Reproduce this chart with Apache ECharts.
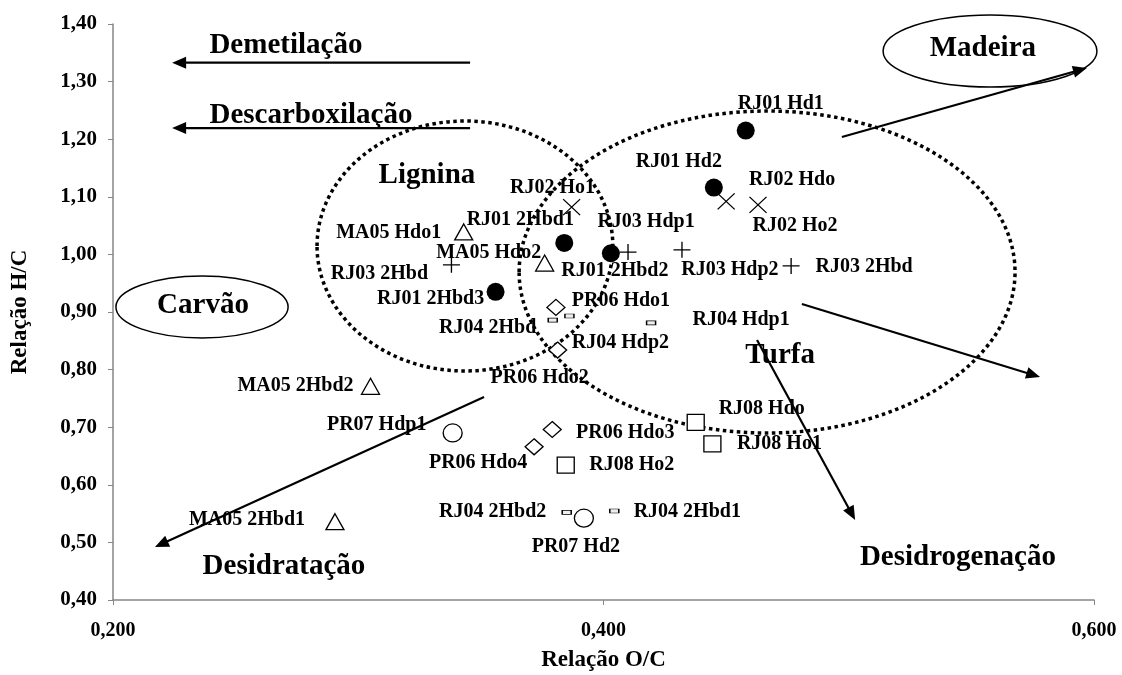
<!DOCTYPE html>
<html><head><meta charset="utf-8">
<script src="https://cdn.jsdelivr.net/npm/echarts@6/dist/echarts.min.js"></script>
<style>html,body{margin:0;padding:0;background:#fff}#c{width:1122px;height:675px}</style>
</head><body><div id="c"></div>
<script>
// ---- data (O/C, H/C) ----
const rj01Names = ['RJ01 Hd1','RJ01 Hd2','RJ01 2Hbd1','RJ01 2Hbd2','RJ01 2Hbd3'];
const rj01OC = [0.458, 0.445, 0.384, 0.403, 0.356];
const rj01HC = [1.215, 1.116, 1.020, 1.002, 0.935];

const rj02Names = ['RJ02 Ho1','RJ02 Hdo','RJ02 Ho2'];
const rj02OC = [0.387, 0.450, 0.463];
const rj02HC = [1.082, 1.092, 1.086];

const rj03Names = ['RJ03 2Hbd','RJ03 Hdp1','RJ03 Hdp2','RJ03 2Hbd'];
const rj03OC = [0.338, 0.410, 0.432, 0.4765];
const rj03HC = [0.982, 1.004, 1.008, 0.980];

const ma05Names = ['MA05 Hdo1','MA05 Hdo2','MA05 2Hbd2','MA05 2Hbd1'];
const ma05OC = [0.343, 0.376, 0.305, 0.2905];
const ma05HC = [1.039, 0.985, 0.771, 0.536];

const pr06Names = ['PR06 Hdo1','PR06 Hdo2','PR06 Hdo3','PR06 Hdo4'];
const pr06OC = [0.3806, 0.3813, 0.3791, 0.3717];
const pr06HC = [0.908, 0.834, 0.696, 0.666];

const rj04Names = ['RJ04 2Hbd','RJ04 Hdp2','RJ04 Hdp1','RJ04 2Hbd2','RJ04 2Hbd1'];
const rj04OC = [0.3793, 0.3861, 0.4194, 0.385, 0.4044];
const rj04HC = [0.886, 0.893, 0.881, 0.552, 0.5545];

const pr07Names = ['PR07 Hdp1','PR07 Hd2'];
const pr07OC = [0.3385, 0.392];
const pr07HC = [0.690, 0.542];

const rj08Names = ['RJ08 Hdo','RJ08 Ho1','RJ08 Ho2'];
const rj08OC = [0.4376, 0.4444, 0.3846];
const rj08HC = [0.7085, 0.671, 0.634];

// ---- label layout (pixel offsets from marker) ----
const rj01Lab = [[35,-27],[-35,-26],[-44,-23],[4,18],[-65,7]];
const rj02Lab = [[-19,-19],[66,-22],[37,21]];
const rj03Lab = [[-72,9],[18,-30],[48,20],[73,1]];
const ma05Lab = [[-75,1],[-56,-10],[-75,0],[-88,-2]];
const pr06Lab = [[65,-7],[-18,28],[73,3],[-56,16]];
const rj04Lab = [[-65,8],[51,27],[90,-3],[-74,-1],[73,1]];
const pr07Lab = [[-76,-8],[-8,29]];
const rj08Lab = [[66,-13],[67,0],[66,0]];

// ---- annotations (data coordinates) ----
const annoTexts = [
  ['Demetilação', 0.2705, 1.3632],
  ['Descarboxilação', 0.2807, 1.2403],
  ['Lignina', 0.3280, 1.1378],
  ['Madeira', 0.5547, 1.3566],
  ['Carvão', 0.2367, 0.9104],
  ['Turfa', 0.4720, 0.8236],
  ['Desidratação', 0.2697, 0.4573],
  ['Desidrogenação', 0.5445, 0.4729]
];
// [x1,y1,x2(tip),y2(tip)]
const arrows = [
  [0.3456, 1.3328, 0.2241, 1.3328],
  [0.3456, 1.2194, 0.2241, 1.2194],
  [0.4972, 1.2038, 0.5971, 1.3236],
  [0.4809, 0.9139, 0.5780, 0.7872],
  [0.4626, 0.8514, 0.5026, 0.5389],
  [0.3513, 0.7524, 0.2171, 0.4920]
];
// [cx, cy, rx, ry, dotted]
const ellipses = [
  [0.3435, 1.0146, 0.0603, 0.2170, true],
  [0.4667, 0.9694, 0.1011, 0.2795, true],
  [0.5576, 1.3531, 0.0436, 0.0625, false],
  [0.2363, 0.9087, 0.0351, 0.0538, false]
];

const FONT = "'Liberation Serif','Times New Roman',serif";

function mk(names, xs, ys, labs) {
  return names.map((n, i) => ({
    name: n, value: [xs[i], ys[i]],
    label: { offset: labs[i] }
  }));
}
const labelBase = { show: true, position: 'inside', formatter: '{b}', fontFamily: FONT,
  fontWeight: 'bold', fontSize: 20, color: '#000', opacity: 1 };
const openStyle = { color: '#fff', borderColor: '#000', borderWidth: 1.3, opacity: 1 };

const chart = echarts.init(document.getElementById('c'));
chart.setOption({
  animation: false,
  backgroundColor: '#fff',
  grid: { left: 113, right: 28, top: 24, bottom: 75, containLabel: false, outerBoundsMode: 'none' },
  xAxis: {
    type: 'value', min: 0.2, max: 0.6, interval: 0.2,
    name: 'Relação O/C', nameLocation: 'middle', nameGap: 49,
    nameTextStyle: { fontFamily: FONT, fontWeight: 'bold', fontSize: 23, color: '#000' },
    axisLine: { show: true, lineStyle: { color: '#868686', width: 1.5 } },
    axisTick: { show: true, length: 5, lineStyle: { color: '#868686' } },
    splitLine: { show: false },
    axisLabel: { margin: 21, fontFamily: FONT, fontWeight: 'bold', fontSize: 20, color: '#000',
      formatter: v => v.toFixed(3).replace('.', ',') }
  },
  yAxis: {
    type: 'value', min: 0.4, max: 1.4, interval: 0.1,
    name: 'Relação H/C', nameLocation: 'middle', nameGap: 81, nameRotate: 90,
    nameTextStyle: { fontFamily: FONT, fontWeight: 'bold', fontSize: 23, color: '#000' },
    axisLine: { show: true, lineStyle: { color: '#868686', width: 1.5 } },
    axisTick: { show: true, length: 5, lineStyle: { color: '#868686' } },
    splitLine: { show: false },
    axisLabel: { margin: 16, fontFamily: FONT, fontWeight: 'bold', fontSize: 21, color: '#000',
      formatter: v => v.toFixed(2).replace('.', ',') }
  },
  series: [
    { type: 'scatter', name: 'RJ01', symbol: 'circle', symbolSize: 18,
      itemStyle: { color: '#000', opacity: 1 }, label: labelBase, data: mk(rj01Names, rj01OC, rj01HC, rj01Lab) },
    { type: 'scatter', name: 'RJ02', symbol: 'path://M0,0L10,10M10,0L0,10', symbolSize: [17, 16],
      itemStyle: { color: 'transparent', borderColor: '#000', borderWidth: 1.3, opacity: 1 }, label: labelBase,
      data: mk(rj02Names, rj02OC, rj02HC, rj02Lab) },
    { type: 'scatter', name: 'RJ03', symbol: 'path://M5,0L5,10M0,5L10,5', symbolSize: [17, 16],
      itemStyle: { color: 'transparent', borderColor: '#000', borderWidth: 1.3, opacity: 1 }, label: labelBase,
      data: mk(rj03Names, rj03OC, rj03HC, rj03Lab) },
    { type: 'scatter', name: 'MA05', symbol: 'triangle', symbolSize: [18, 16],
      itemStyle: openStyle, label: labelBase, data: mk(ma05Names, ma05OC, ma05HC, ma05Lab) },
    { type: 'scatter', name: 'PR06', symbol: 'diamond', symbolSize: [18, 16],
      itemStyle: openStyle, label: labelBase, data: mk(pr06Names, pr06OC, pr06HC, pr06Lab) },
    { type: 'scatter', name: 'RJ04', symbol: 'rect', symbolSize: [9, 4],
      itemStyle: { color: '#eee', borderColor: '#000', borderWidth: 1, opacity: 1 }, label: labelBase,
      data: mk(rj04Names, rj04OC, rj04HC, rj04Lab) },
    { type: 'scatter', name: 'PR07', symbol: 'circle', symbolSize: [19, 18],
      itemStyle: openStyle, label: labelBase, data: mk(pr07Names, pr07OC, pr07HC, pr07Lab) },
    { type: 'scatter', name: 'RJ08', symbol: 'rect', symbolSize: [17, 16],
      itemStyle: openStyle, label: labelBase, data: mk(rj08Names, rj08OC, rj08HC, rj08Lab) }
  ]
});

function P(x, y) { return chart.convertToPixel({ gridIndex: 0 }, [x, y]); }
const g = [];
ellipses.forEach(e => {
  const c = P(e[0], e[1]);
  const r = P(e[0] + e[2], e[1] - e[3]);
  g.push({ type: 'ellipse', z: 1, silent: true,
    shape: { cx: c[0], cy: c[1], rx: r[0] - c[0], ry: r[1] - c[1] },
    style: e[4] ? { fill: 'none', stroke: '#000', lineWidth: 3.5, lineDash: [3.5, 3.5] }
                : { fill: 'none', stroke: '#000', lineWidth: 1.5 } });
});
arrows.forEach(a => {
  const p1 = P(a[0], a[1]), p2 = P(a[2], a[3]);
  const dx = p2[0] - p1[0], dy = p2[1] - p1[1];
  const L = Math.hypot(dx, dy), ux = dx / L, uy = dy / L;
  const hl = 14, hw = 6;
  const bx = p2[0] - ux * hl, by = p2[1] - uy * hl;
  g.push({ type: 'line', z: 5, silent: true,
    shape: { x1: p1[0], y1: p1[1], x2: bx + ux * 2, y2: by + uy * 2 },
    style: { stroke: '#000', lineWidth: 2.2 } });
  g.push({ type: 'polygon', z: 5, silent: true,
    shape: { points: [[p2[0], p2[1]], [bx - uy * hw, by + ux * hw], [bx + uy * hw, by - ux * hw]] },
    style: { fill: '#000' } });
});
annoTexts.forEach(t => {
  const p = P(t[1], t[2]);
  g.push({ type: 'text', z: 6, silent: true, x: p[0], y: p[1],
    style: { text: t[0], fill: '#000', font: "bold 29px " + FONT, align: 'center', verticalAlign: 'middle' } });
});
chart.setOption({ graphic: g });
</script>
</body></html>
